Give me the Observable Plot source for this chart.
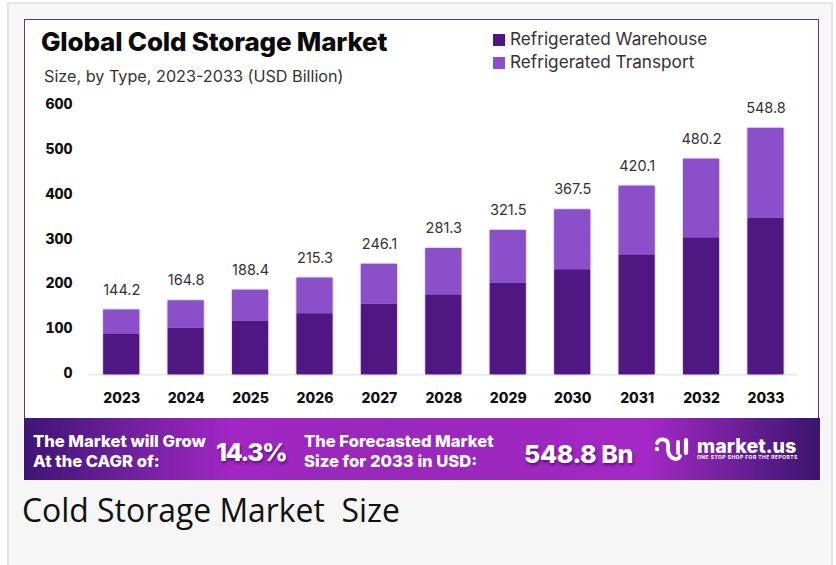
<!DOCTYPE html>
<html>
<head>
<meta charset="utf-8">
<script src="https://cdn.jsdelivr.net/npm/d3@7"></script>
<script src="https://cdn.jsdelivr.net/npm/@observablehq/plot@0.6"></script>
<style>
html,body{margin:0;padding:0;background:#fff;overflow:hidden}
#page{position:relative;width:836px;height:565px;overflow:hidden;font-family:Inter,sans-serif}
.abs{position:absolute;white-space:pre;line-height:1}
#panel{position:absolute;left:7px;top:2px;width:826px;height:570px;background:#f6f6f6;border:2px solid #e4e4e4;box-sizing:border-box}
#card{position:absolute;left:24px;top:19px;width:795px;height:400px;background:#fff;border:1px solid #5a3a88;box-sizing:border-box}
#banner{position:absolute;left:24px;top:418px;width:796px;height:62px;background:linear-gradient(90deg,#3f1474 0%,#6a1f9a 12%,#a226c4 26%,#9a28bd 40%,#9c27be 60%,#a528c6 78%,#6a1f96 90%,#3c1470 100%)}
#chart{position:absolute;left:0;top:0}
#chart svg{background:transparent;display:block}
#chart g[aria-label="bar"]{filter:drop-shadow(0 0 1.2px rgba(70,50,100,.5))}
.sw{position:absolute;width:12px;height:12px}
.leg{font-size:17.2px;color:#333;font-weight:400}
.bt{color:#fff;font-weight:800;font-size:16.6px}
.big{color:#fff;font-weight:800;font-size:25px;text-shadow:1px 2px 3px rgba(40,0,70,.6)}
</style>
</head>
<body>
<div id="page">
  <div id="panel"></div>
  <div id="card"></div>
  <div id="banner"></div>
  <div id="chart"></div>
  <div class="abs" style="left:41px;top:29px;font-size:26px;font-weight:800;color:#0b0b0b;letter-spacing:-.2px">Global Cold Storage Market</div>
  <div class="abs" style="left:44px;top:68px;font-size:16.2px;color:#333">Size, by Type, 2023-2033 (USD Billion)</div>
  <div class="sw" style="left:493px;top:34px;background:#4f1782"></div>
  <div class="abs leg" style="left:510px;top:30px">Refrigerated Warehouse</div>
  <div class="sw" style="left:493px;top:57px;background:#8a4fc9"></div>
  <div class="abs leg" style="left:510px;top:53px">Refrigerated Transport</div>
  <div class="abs bt" style="left:33px;top:433px">The Market will Grow</div>
  <div class="abs bt" style="left:33px;top:453px">At the CAGR of:</div>
  <div class="abs big" style="left:216px;top:440px;letter-spacing:-1.5px">14.3%</div>
  <div class="abs bt" style="left:304px;top:433px">The Forecasted Market</div>
  <div class="abs bt" style="left:304px;top:453px">Size for 2033 in USD:</div>
  <div class="abs big" style="left:524px;top:442px;letter-spacing:-.4px">548.8 Bn</div>
  <svg class="abs" style="left:652px;top:434px" width="40" height="30" viewBox="0 0 40 30" fill="none" stroke="#fff" stroke-width="3.8" stroke-linecap="round">
    <circle cx="5" cy="15" r="2.2" fill="#fff" stroke="none"/>
    <path d="M5 9 C7 4 16 4 16 11 L16 16 C17 26 27 27 28 22"/>
    <path d="M26 8 V19"/>
    <path d="M34 6 V19" stroke-width="4.2"/>
  </svg>
  <div class="abs" style="left:697px;top:439px;font-size:19.6px;line-height:14px;font-weight:800;color:#fff">market.us</div>
  <div class="abs" style="left:697px;top:454.5px;font-size:5px;font-weight:700;color:#fff;letter-spacing:.45px">ONE STOP SHOP FOR THE REPORTS</div>
  <div class="abs" style="left:22px;top:494px;font-family:'Open Sans';font-size:31.9px;color:#111">Cold Storage Market  Size</div>
</div>
<script>
const years = ["2023","2024","2025","2026","2027","2028","2029","2030","2031","2032","2033"];
const totals = [144.2,164.8,188.4,215.3,246.1,281.3,321.5,367.5,420.1,480.2,548.8];
const warehouse = [91,104,119,136,157,178,204,234,267,305,349];
const transport = [53.2,60.8,69.4,79.3,89.1,103.3,117.5,133.5,153.1,175.2,199.8];
const types = ["Refrigerated Warehouse","Refrigerated Transport"];
const colors = ["#4f1782","#8a4fc9"];
const yTicks = [0,100,200,300,400,500,600];

const rows = years.flatMap((year,i)=>[
  {year,type:types[0],value:warehouse[i]},
  {year,type:types[1],value:transport[i]}
]);
const labels = years.map((year,i)=>({year,total:totals[i]}));

const plot = Plot.plot({
  width:836,
  height:418,
  marginLeft:89,
  marginRight:38.3,
  marginTop:104.9,
  marginBottom:43.7,
  style:{fontFamily:"Inter, sans-serif",background:"transparent",overflow:"visible"},
  x:{domain:years,paddingInner:0.44,paddingOuter:0.22,align:0.5,round:false,label:null},
  y:{domain:[0,600],label:null},
  color:{domain:types,range:colors},
  marks:[
    Plot.ruleY([0],{stroke:"#dcdcdc",strokeWidth:1}),
    Plot.barY(rows,Plot.stackY({x:"year",y:"value",fill:"type",order:types})),
    Plot.text(labels,{x:"year",y:"total",text:d=>d.total.toFixed(1),dy:-20,fontSize:14.5,fill:"#333",lineAnchor:"middle"}),
    Plot.axisX({tickSize:0,tickPadding:18,fontSize:14,fontWeight:800,fill:"#111",label:null,anchor:"bottom"}),
    Plot.axisY({ticks:yTicks,tickSize:0,tickPadding:17,fontSize:14,fontWeight:800,fill:"#111",label:null,dy:-1})
  ]
});
document.getElementById("chart").appendChild(plot);
</script>
</body>
</html>
